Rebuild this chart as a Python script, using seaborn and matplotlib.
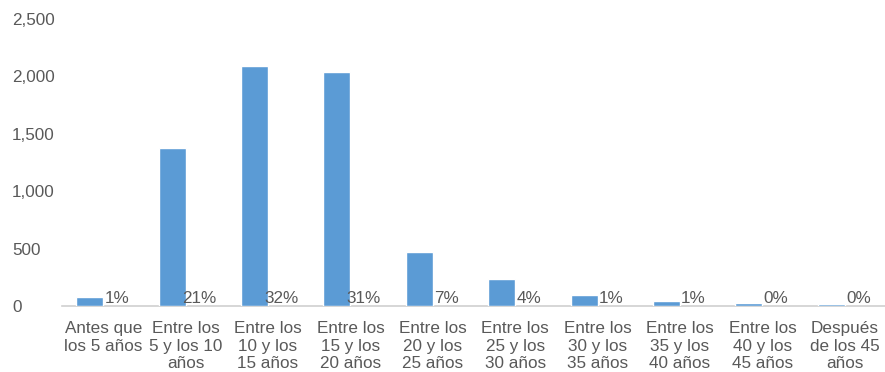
import matplotlib
matplotlib.use("Agg")
import matplotlib.pyplot as plt
import seaborn as sns
import pandas as pd

categories = [
    "Antes que\nlos 5 años",
    "Entre los\n5 y los 10\naños",
    "Entre los\n10 y los\n15 años",
    "Entre los\n15 y los\n20 años",
    "Entre los\n20 y los\n25 años",
    "Entre los\n25 y los\n30 años",
    "Entre los\n30 y los\n35 años",
    "Entre los\n35 y los\n40 años",
    "Entre los\n40 y los\n45 años",
    "Después\nde los 45\naños",
]
counts = [78, 1377, 2087, 2037, 472, 235, 96, 43, 25, 20]
percents = [1, 21, 32, 31, 7, 4, 1, 1, 0, 0]
yticks = [0, 500, 1000, 1500, 2000, 2500]

sns.set_theme(style="white")
plt.rcParams["font.family"] = ["Liberation Sans", "DejaVu Sans"]

df = pd.DataFrame({
    "categoria": categories * 2,
    "serie": ["Cantidad"] * len(categories) + ["Porcentaje"] * len(categories),
    "valor": counts + [p / 100 for p in percents],
})

W, H = 885, 372
fig = plt.figure(figsize=(W / 100, H / 100), dpi=100)
ax = fig.add_axes([62 / W, 66 / H, (886 - 62) / W, (306 - 19) / H])

sns.barplot(data=df, x="categoria", y="valor", hue="serie",
            palette={"Cantidad": "#5B9BD5", "Porcentaje": "#5B9BD5"},
            width=0.655, gap=0, ax=ax, legend=False, saturation=1)

# second (percentage) series is invisible; only its labels show
for patch in ax.containers[1]:
    patch.set_alpha(0)
for patch in ax.containers[0]:
    patch.set_zorder(3)
ax.bar_label(ax.containers[1], labels=[f"{p}%" for p in percents],
             padding=0, fontsize=12.3, color="#595959")

ax.set_ylim(0, 2500)
ax.set_xlim(-0.5, len(categories) - 0.5)
ax.set_yticks(yticks)
ax.set_yticklabels([f"{v:,}" for v in yticks])
ax.set_xlabel("")
ax.set_ylabel("")

for s in ["top", "right", "left"]:
    ax.spines[s].set_visible(False)
ax.spines["bottom"].set_color("#D0D0D0")
ax.spines["bottom"].set_linewidth(1.2)
ax.spines["bottom"].set_zorder(1)

ax.tick_params(axis="y", length=0, pad=36, labelsize=12.3, labelcolor="#595959")
for lab in ax.get_yticklabels():
    lab.set_ha("left")
ax.tick_params(axis="x", length=0, pad=11, labelsize=12.3, labelcolor="#595959")
for lab in ax.get_xticklabels():
    lab.set_linespacing(1.2)

fig.savefig("out.png", dpi=100)
